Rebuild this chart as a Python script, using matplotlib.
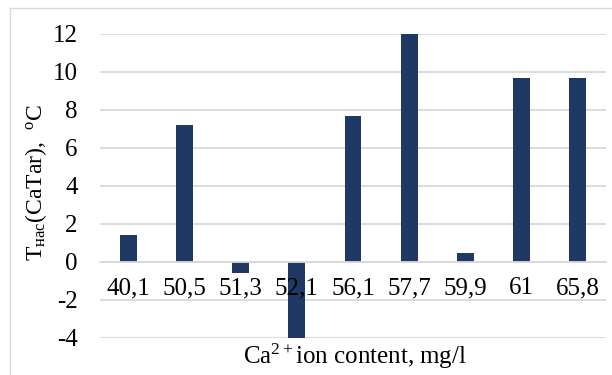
import matplotlib.pyplot as plt
from matplotlib.lines import Line2D

plt.rcParams['font.family'] = ['Liberation Serif', 'DejaVu Serif']
plt.rcParams['mathtext.fontset'] = 'custom'
plt.rcParams['mathtext.rm'] = 'Liberation Serif'
plt.rcParams['mathtext.it'] = 'Liberation Serif:italic'

categories = ['40,1', '50,5', '51,3', '52,1', '56,1', '57,7', '59,9', '61', '65,8']
t_sat = [1.4, 7.2, -0.6, -4.0, 7.7, 12.1, 0.5, 9.7, 9.7]
y_ticks = [-4, -2, 0, 2, 4, 6, 8, 10, 12]

fig = plt.figure(figsize=(6.12, 3.75), dpi=100)
ax = fig.add_axes([100 / 612, 1 - 338 / 375, 506 / 612, 304 / 375])

# chart frame (only left and top edges show in the crop)
fig.lines.append(Line2D([9.5 / 612, 9.5 / 612], [0, 1 - 8 / 375],
                        transform=fig.transFigure, color='#D9D9D9', lw=1))
fig.lines.append(Line2D([9.5 / 612, 1], [1 - 8 / 375, 1 - 8 / 375],
                        transform=fig.transFigure, color='#D9D9D9', lw=1))

x = range(len(categories))
ax.bar(x, t_sat, width=0.3, color='#203864', zorder=2)

ax.set_ylim(-4, 12)
ax.set_xlim(-0.5, len(categories) - 0.5)
ax.set_yticks(y_ticks)
ax.set_yticklabels([str(v) for v in y_ticks], fontsize=18)
ax.grid(axis='y', color='#D9D9D9', linewidth=1.3)

for s in ['top', 'right', 'left']:
    ax.spines[s].set_visible(False)
ax.spines['bottom'].set_position(('data', 0))
ax.spines['bottom'].set_color('#D9D9D9')
ax.spines['bottom'].set_linewidth(1.3)
ax.spines['bottom'].set_zorder(2.5)

ax.set_xticks(list(x))
ax.set_xticklabels(categories, fontsize=18)
ax.tick_params(axis='both', length=0)
ax.tick_params(axis='x', pad=11)
ax.tick_params(axis='y', pad=16)

# labels drawn over bars, grid under them
ax.yaxis.set_zorder(1)
ax.xaxis.set_zorder(4)

ax.set_ylabel(r'T$_{\mathrm{нас}}$(CaTar),  $^{\mathrm{o}}$C', fontsize=17)
ax.yaxis.set_label_coords(-0.10, 0.51)
fig.text(355 / 612, 1 - 356 / 375, r'Ca$^{2+}$ion content, mg/l',
         fontsize=18, ha='center', va='center')

fig.savefig('out.png', dpi=100)
